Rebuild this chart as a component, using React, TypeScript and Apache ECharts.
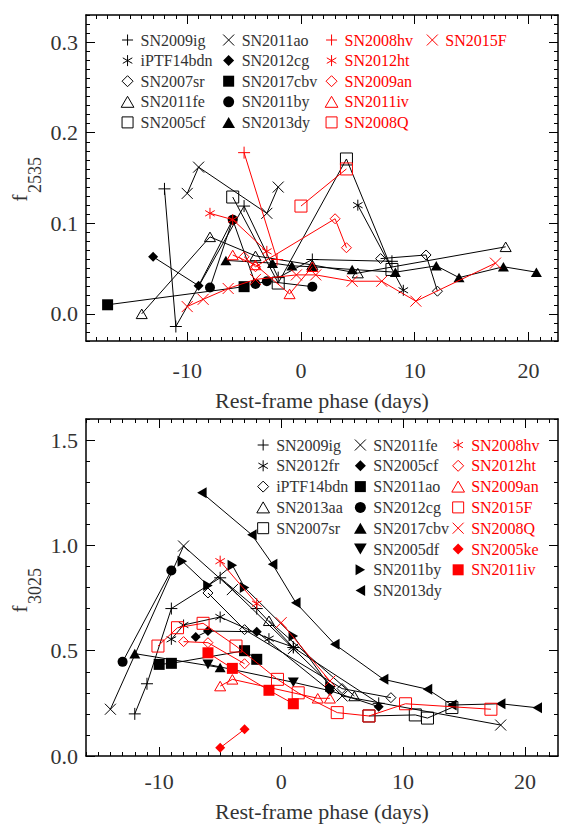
import React, { useEffect, useRef } from "react";
import * as echarts from "echarts";

// ---------- axes ----------
const X_TICKS = [-10, 0, 10, 20];
const TOP_Y_TICKS = [0, 0.1, 0.2, 0.3];
const BOT_Y_TICKS = [0, 0.5, 1.0, 1.5];
const TOP_X_RANGE = [-18.9, 22.6];
const BOT_X_RANGE = [-16, 22.7];
const TOP_Y_RANGE = [-0.03, 0.33];
const BOT_Y_RANGE = [0, 1.6];
const X_TITLE = "Rest-frame phase (days)";

// ---------- top panel: f2535 ----------
const T_SN2009ig = [[-12, 0.138], [-11, -0.014], [-5, 0.119], [-2, 0.04], [1, 0.06], [8, 0.058]];
const T_iPTF14bdn = [[5, 0.12], [9, 0.026]];
const T_SN2007sr = [[7, 0.061], [11, 0.065], [12, 0.025]];
const T_SN2011fe = [[-14, 0.0], [-8, 0.085], [-4, 0.064], [1, 0.054], [5, 0.045], [18, 0.074]];
const T_SN2005cf = [[-6, 0.129], [-2, 0.034], [4, 0.171], [8, 0.049]];
const T_SN2011ao = [[-10, 0.133], [-9, 0.162], [-3, 0.111], [-2, 0.14]];
const T_SN2012cg = [[-13, 0.063], [-9, 0.031], [-6, 0.104]];
const T_SN2017cbv = [[-17, 0.01], [-5, 0.03]];
const T_SN2011by = [[-8, 0.029], [-6, 0.104], [-4, 0.033], [-3, 0.036], [1, 0.03]];
const T_SN2013dy = [[-6.6, 0.059], [-2.5, 0.056], [-0.8, 0.053], [1, 0.052], [4.5, 0.049], [8.3, 0.046], [11.9, 0.053], [13.9, 0.04], [17.8, 0.052], [20.7, 0.046]];
const T_SN2008hv = [[-5, 0.178], [-2.1, 0.06]];
const T_SN2012ht = [[-8, 0.111], [-6, 0.104], [-3, 0.069]];
const T_SN2009an = [[-5, 0.063], [-4, 0.052], [3, 0.105], [4, 0.073]];
const T_SN2011iv = [[-6, 0.065], [-4, 0.054], [-1, 0.022], [1, 0.052]];
const T_SN2008Q = [[0, 0.119], [4, 0.16]];
const T_SN2015F = [[-10, 0.008], [-8.6, 0.016], [-6.4, 0.028], [-4, 0.038], [-0.4, 0.043], [1.3, 0.043], [4.5, 0.036], [7.1, 0.036], [10.1, 0.014], [17.1, 0.056]];

// ---------- bottom panel: f3025 ----------
const B_SN2009ig = [[-12, 0.2], [-11, 0.343], [-9, 0.7], [-5, 0.846], [-2, 0.7], [1, 0.515], [8, 0.25]];
const B_SN2012fr = [[-9, 0.554], [-8, 0.622], [-5, 0.66], [-1, 0.557], [1, 0.517]];
const B_iPTF14bdn = [[-6, 0.774], [-3, 0.6], [5, 0.32], [9, 0.277]];
const B_SN2013aa = [[-1, 0.642], [6, 0.285]];
const B_SN2007sr = [[7.2, 0.19], [11, 0.195], [12, 0.18], [14, 0.23]];
const B_SN2011fe = [[-14, 0.222], [-8, 0.997], [-4, 0.79], [1, 0.51], [5, 0.285], [18, 0.147]];
const B_SN2005cf = [[-7, 0.565], [-6, 0.593], [-2, 0.59], [4, 0.31], [8, 0.234]];
const B_SN2011ao = [[-10, 0.435], [-9, 0.44], [-3, 0.5], [-2, 0.459]];
const B_SN2012cg = [[-13, 0.447], [-9, 0.881]];
const B_SN2017cbv = [[-12, 0.486], [-5, 0.42]];
const B_SN2005df = [[-6, 0.435], [1, 0.35], [4, 0.31]];
const B_SN2011by = [[-8.1, 0.925], [-6, 0.81], [-4, 0.906], [-3, 0.8], [1, 0.57], [4, 0.33]];
const B_SN2013dy = [[-6.5, 1.25], [-2.4, 1.05], [-0.7, 0.91], [1.2, 0.728], [4.4, 0.53], [8.4, 0.364], [12, 0.317], [14, 0.242], [18, 0.248], [21, 0.229]];
const B_SN2008hv = [[-5, 0.925], [-2, 0.723]];
const B_SN2012ht = [[-8, 0.543], [-6, 0.538], [-3, 0.438]];
const B_SN2009an = [[-5, 0.332], [-4, 0.364], [3, 0.274], [4, 0.274]];
const B_SN2015F = [[-10.1, 0.522], [-8.5, 0.609], [-6.4, 0.63], [-3.7, 0.522], [-0.3, 0.364], [1.4, 0.3], [4.6, 0.206], [7.2, 0.19], [10.2, 0.248], [17.2, 0.222]];
const B_SN2008Q = [[0, 0.633], [4, 0.356]];
const B_SN2005ke = [[-5, 0.039], [-3, 0.127]];
const B_SN2011iv = [[-6, 0.49], [-4, 0.416], [-1, 0.312], [1, 0.248]];

// ---------- styles ----------
const FONT = '"Liberation Serif", "Times New Roman", serif';
const BLACK = "#000000";
const RED = "#ff0000";
const LABEL_COLOR = "#333333";

const MARKERS: Record<string, { path: string; fill: boolean; size: number }> = {
  plus: { path: "path://M0,5L10,5M5,0L5,10", fill: false, size: 12 },
  cross: { path: "path://M0,0L10,10M10,0L0,10", fill: false, size: 11 },
  star: { path: "path://M5,0L5,10M0.67,2.5L9.33,7.5M9.33,2.5L0.67,7.5", fill: false, size: 11 },
  oDiamond: { path: "path://M5,0L10,5L5,10L0,5Z", fill: false, size: 10 },
  oTriangle: { path: "path://M5,0L10,8.66L0,8.66Z", fill: false, size: 11 },
  oSquare: { path: "path://M0,0L10,0L10,10L0,10Z", fill: false, size: 12 },
  diamond: { path: "path://M5,0L10,5L5,10L0,5Z", fill: true, size: 10 },
  square: { path: "path://M0,0L10,0L10,10L0,10Z", fill: true, size: 11 },
  circle: { path: "path://M0,5A5,5,0,1,1,10,5A5,5,0,1,1,0,5Z", fill: true, size: 10 },
  triangle: { path: "path://M5,0L10,8.66L0,8.66Z", fill: true, size: 11 },
  downTri: { path: "path://M0,0L10,0L5,8.66Z", fill: true, size: 11 },
  rightTri: { path: "path://M0,0L8.66,5L0,10Z", fill: true, size: 11 },
  leftTri: { path: "path://M8.66,0L0,5L8.66,10Z", fill: true, size: 11 },
};

type Entry = { name: string; data: number[][]; marker: string; color: string };

const TOP_COLS: Entry[][] = [
  [
    { name: "SN2009ig", data: T_SN2009ig, marker: "plus", color: BLACK },
    { name: "iPTF14bdn", data: T_iPTF14bdn, marker: "star", color: BLACK },
    { name: "SN2007sr", data: T_SN2007sr, marker: "oDiamond", color: BLACK },
    { name: "SN2011fe", data: T_SN2011fe, marker: "oTriangle", color: BLACK },
    { name: "SN2005cf", data: T_SN2005cf, marker: "oSquare", color: BLACK },
  ],
  [
    { name: "SN2011ao", data: T_SN2011ao, marker: "cross", color: BLACK },
    { name: "SN2012cg", data: T_SN2012cg, marker: "diamond", color: BLACK },
    { name: "SN2017cbv", data: T_SN2017cbv, marker: "square", color: BLACK },
    { name: "SN2011by", data: T_SN2011by, marker: "circle", color: BLACK },
    { name: "SN2013dy", data: T_SN2013dy, marker: "triangle", color: BLACK },
  ],
  [
    { name: "SN2008hv", data: T_SN2008hv, marker: "plus", color: RED },
    { name: "SN2012ht", data: T_SN2012ht, marker: "star", color: RED },
    { name: "SN2009an", data: T_SN2009an, marker: "oDiamond", color: RED },
    { name: "SN2011iv", data: T_SN2011iv, marker: "oTriangle", color: RED },
    { name: "SN2008Q", data: T_SN2008Q, marker: "oSquare", color: RED },
  ],
  [{ name: "SN2015F", data: T_SN2015F, marker: "cross", color: RED }],
];

const BOT_COLS: Entry[][] = [
  [
    { name: "SN2009ig", data: B_SN2009ig, marker: "plus", color: BLACK },
    { name: "SN2012fr", data: B_SN2012fr, marker: "star", color: BLACK },
    { name: "iPTF14bdn", data: B_iPTF14bdn, marker: "oDiamond", color: BLACK },
    { name: "SN2013aa", data: B_SN2013aa, marker: "oTriangle", color: BLACK },
    { name: "SN2007sr", data: B_SN2007sr, marker: "oSquare", color: BLACK },
  ],
  [
    { name: "SN2011fe", data: B_SN2011fe, marker: "cross", color: BLACK },
    { name: "SN2005cf", data: B_SN2005cf, marker: "diamond", color: BLACK },
    { name: "SN2011ao", data: B_SN2011ao, marker: "square", color: BLACK },
    { name: "SN2012cg", data: B_SN2012cg, marker: "circle", color: BLACK },
    { name: "SN2017cbv", data: B_SN2017cbv, marker: "triangle", color: BLACK },
    { name: "SN2005df", data: B_SN2005df, marker: "downTri", color: BLACK },
    { name: "SN2011by", data: B_SN2011by, marker: "rightTri", color: BLACK },
    { name: "SN2013dy", data: B_SN2013dy, marker: "leftTri", color: BLACK },
  ],
  [
    { name: "SN2008hv", data: B_SN2008hv, marker: "star", color: RED },
    { name: "SN2012ht", data: B_SN2012ht, marker: "oDiamond", color: RED },
    { name: "SN2009an", data: B_SN2009an, marker: "oTriangle", color: RED },
    { name: "SN2015F", data: B_SN2015F, marker: "oSquare", color: RED },
    { name: "SN2008Q", data: B_SN2008Q, marker: "cross", color: RED },
    { name: "SN2005ke", data: B_SN2005ke, marker: "diamond", color: RED },
    { name: "SN2011iv", data: B_SN2011iv, marker: "square", color: RED },
  ],
];

function stepValues(lo: number, hi: number, step: number): number[] {
  const out: number[] = [];
  const s = Math.ceil(lo / step - 1e-9);
  const e = Math.floor(hi / step + 1e-9);
  for (let i = s; i <= e; i++) out.push(+(i * step).toFixed(4));
  return out;
}

function markerStyle(e: Entry) {
  const m = MARKERS[e.marker];
  return m.fill
    ? { color: e.color, borderWidth: 0 }
    : { color: "rgba(0,0,0,0)", borderColor: e.color, borderWidth: 1 };
}

function makeAxes(dim: "x" | "y", grid: number, range: number[], major: number[], minorStep: number, labelMargin: number, labelFmt?: (v: number) => string) {
  const minor = stepValues(range[0], range[1], minorStep);
  const sides = dim === "x" ? ["bottom", "top"] : ["left", "right"];
  const base = {
    type: "value",
    gridIndex: grid,
    min: range[0],
    max: range[1],
    splitLine: { show: false },
  };
  const axes: any[] = [];
  sides.forEach((side, si) => {
    axes.push({
      ...base,
      position: side,
      axisLine: { show: true, onZero: false, lineStyle: { color: BLACK, width: 1.5 } },
      axisTick: { show: true, inside: true, length: 9, customValues: major, lineStyle: { color: BLACK, width: 1 } },
      axisLabel: {
        show: si === 0,
        customValues: major,
        margin: labelMargin,
        fontSize: 22,
        fontFamily: FONT,
        color: LABEL_COLOR,
        formatter: labelFmt,
      },
    });
    axes.push({
      ...base,
      position: side,
      axisLine: { show: false, onZero: false },
      axisTick: { show: true, inside: true, length: 4, customValues: minor, lineStyle: { color: BLACK, width: 1 } },
      axisLabel: { show: false },
    });
  });
  return axes;
}

function makeSeries(prefix: string, cols: Entry[][], xi: number, yi: number) {
  const out: any[] = [];
  cols.forEach((col) =>
    col.forEach((e) => {
      const m = MARKERS[e.marker];
      out.push({
        type: "line",
        name: prefix + "|" + e.name,
        xAxisIndex: xi,
        yAxisIndex: yi,
        data: e.data,
        symbol: m.path,
        symbolSize: m.size,
        symbolKeepAspect: true,
        showSymbol: true,
        lineStyle: { color: e.color, width: 1 },
        itemStyle: markerStyle(e),
        emphasis: { disabled: true },
        silent: true,
        z: e.color === RED ? 3 : 2,
      });
    })
  );
  return out;
}

function makeLegends(prefix: string, cols: Entry[][], lefts: number[], top: number, gap: number) {
  return cols.map((col, ci) => ({
    show: true,
    orient: "vertical",
    left: lefts[ci],
    top,
    padding: 0,
    itemGap: gap,
    itemWidth: 16,
    itemHeight: 11,
    selectedMode: false,
    symbolKeepAspect: true,
    formatter: (n: string) => n.split("|")[1],
    textStyle: { color: col[0].color === RED ? RED : LABEL_COLOR, fontSize: 16, fontFamily: FONT, lineHeight: 16 },
    data: col.map((e) => ({
      name: prefix + "|" + e.name,
      icon: MARKERS[e.marker].path,
      itemStyle: markerStyle(e),
    })),
  }));
}

function textEl(text: string, x: number, y: number, size: number, rotation = 0) {
  return {
    type: "text",
    x,
    y,
    rotation,
    silent: true,
    style: {
      text,
      fontSize: size,
      fontFamily: FONT,
      fill: LABEL_COLOR,
      align: "center",
      verticalAlign: "middle",
      textAlign: "center",
      textVerticalAlign: "middle",
    },
  };
}

export default function App() {
  const ref = useRef<HTMLDivElement>(null);
  useEffect(() => {
    if (!ref.current) return;
    const chart = echarts.init(ref.current, undefined, { renderer: "svg" });
    const fmt1 = (v: number) => v.toFixed(1);
    const option: any = {
      animation: false,
      backgroundColor: "#ffffff",
      textStyle: { fontFamily: FONT },
      grid: [
        { left: 86, top: 15, width: 472, height: 326 },
        { left: 86, top: 419, width: 472, height: 337 },
      ],
      xAxis: [
        ...makeAxes("x", 0, TOP_X_RANGE, X_TICKS, 1, 18),
        ...makeAxes("x", 1, BOT_X_RANGE, X_TICKS, 1, 14),
      ],
      yAxis: [
        ...makeAxes("y", 0, TOP_Y_RANGE, TOP_Y_TICKS, 0.01, 8, fmt1),
        ...makeAxes("y", 1, BOT_Y_RANGE, BOT_Y_TICKS, 0.1, 8, fmt1),
      ],
      legend: [
        ...makeLegends("t", TOP_COLS, [120.7, 222.3, 324.7, 426.3], 32, 4.6),
        ...makeLegends("b", BOT_COLS, [256.3, 354, 451.3], 437, 4.8),
      ],
      series: [...makeSeries("t", TOP_COLS, 0, 0), ...makeSeries("b", BOT_COLS, 4, 4)],
      graphic: [
        textEl(X_TITLE, 322, 400, 22),
        textEl(X_TITLE, 322, 811, 22),
        textEl("f", 19.5, 198, 22, Math.PI / 2),
        textEl("2535", 35, 175, 18, Math.PI / 2),
        textEl("f", 19.5, 609, 22, Math.PI / 2),
        textEl("3025", 35, 586, 18, Math.PI / 2),
      ],
    };
    chart.setOption(option);
    return () => chart.dispose();
  }, []);
  return (
    <div
      ref={ref}
      style={{ position: "fixed", left: 0, top: 0, width: 561, height: 829, background: "#fff" }}
    />
  );
}
